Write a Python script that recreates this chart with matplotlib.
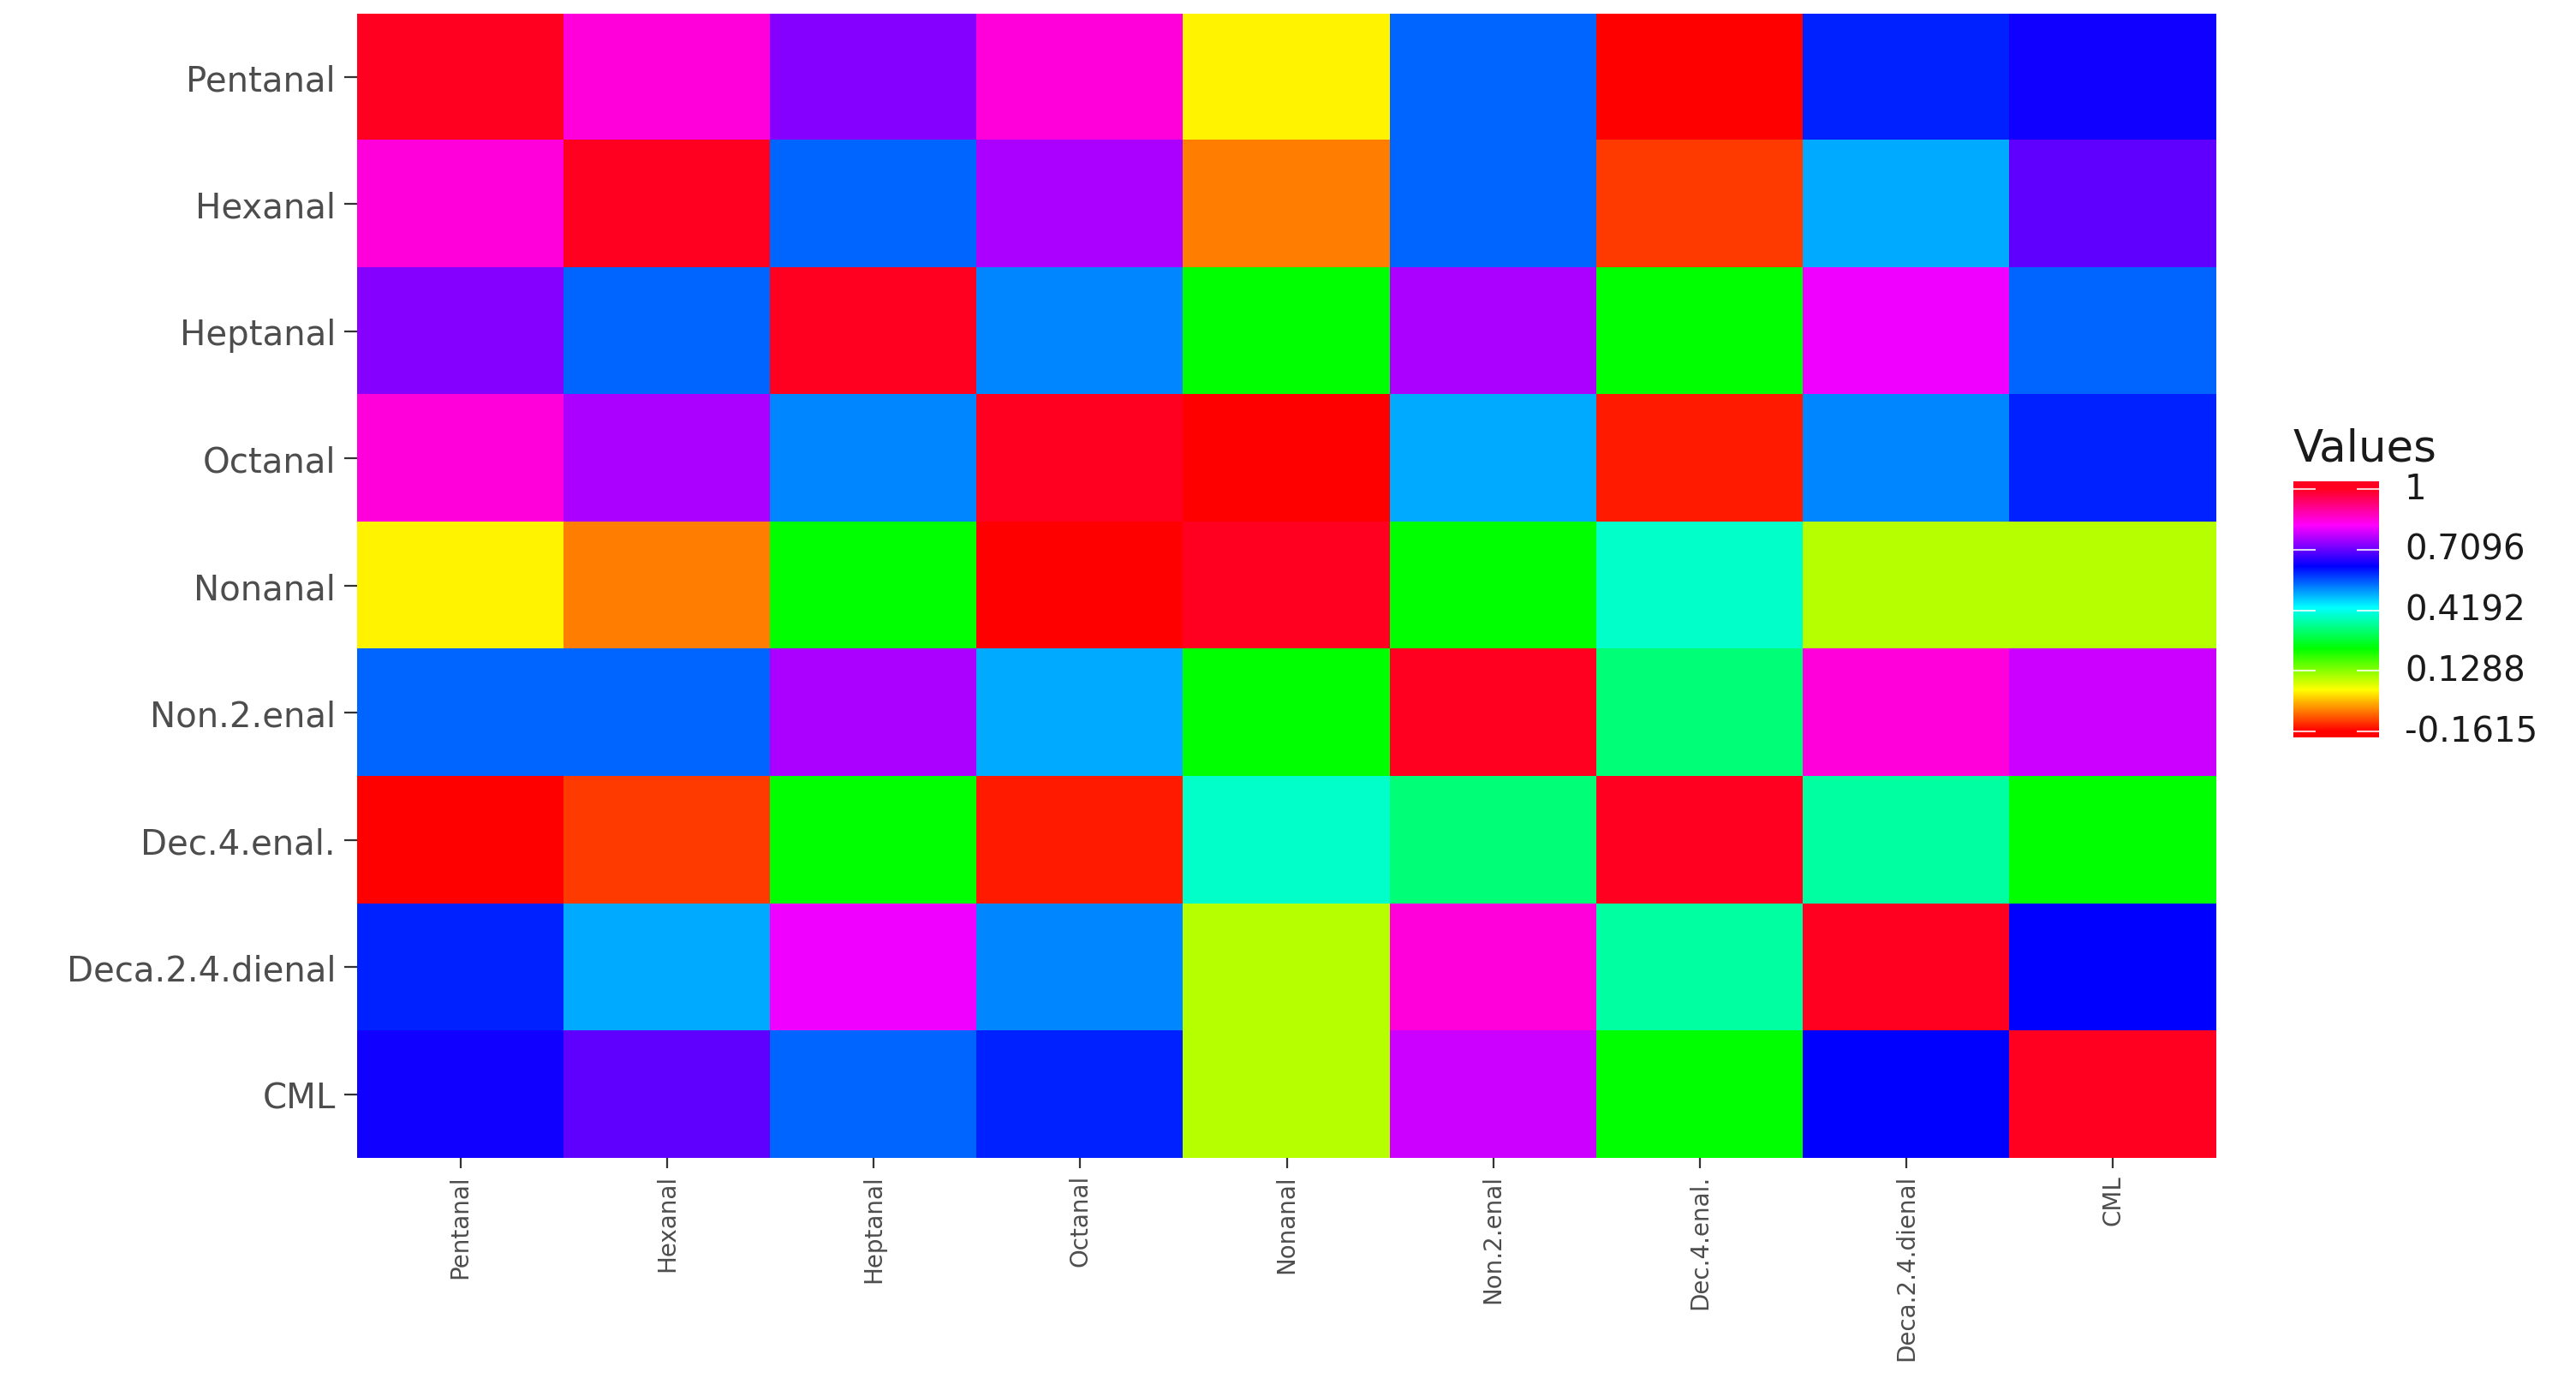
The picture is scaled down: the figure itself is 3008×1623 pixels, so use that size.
import numpy as np
import matplotlib
matplotlib.use("Agg")
import matplotlib.pyplot as plt
from matplotlib.colors import ListedColormap, Normalize, hsv_to_rgb

labels = ["Pentanal", "Hexanal", "Heptanal", "Octanal", "Nonanal",
          "Non.2.enal", "Dec.4.enal.", "Deca.2.4.dienal", "CML"]

row_pentanal = [1.000, 0.855, 0.733, 0.855, 0.029, 0.551, -0.1615, 0.604, 0.643]
row_hexanal = [0.855, 1.000, 0.551, 0.762, -0.063, 0.551, -0.114, 0.498, 0.703]
row_heptanal = [0.733, 0.551, 1.000, 0.525, 0.234, 0.762, 0.234, 0.815, 0.551]
row_octanal = [0.855, 0.762, 0.525, 1.000, -0.1615, 0.498, -0.141, 0.525, 0.604]
row_nonanal = [0.029, -0.063, 0.234, -0.1615, 1.000, 0.234, 0.390, 0.094, 0.094]
row_non2enal = [0.551, 0.551, 0.762, 0.498, 0.234, 1.000, 0.327, 0.855, 0.789]
row_dec4enal = [-0.1615, -0.114, 0.234, -0.141, 0.390, 0.327, 1.000, 0.358, 0.234]
row_deca24dienal = [0.604, 0.498, 0.815, 0.525, 0.094, 0.855, 0.358, 1.000, 0.630]
row_cml = [0.643, 0.703, 0.551, 0.604, 0.094, 0.789, 0.234, 0.630, 1.000]

legend_breaks = [-0.1615, 0.1288, 0.4192, 0.7096, 1.0]
legend_labels = ["-0.1615", "0.1288", "0.4192", "0.7096", "1"]
legend_title = "Values"

values = np.array([row_pentanal, row_hexanal, row_heptanal, row_octanal,
                   row_nonanal, row_non2enal, row_dec4enal,
                   row_deca24dienal, row_cml])

vmin, vmax = -0.1615, 1.0
hues = np.linspace(0.0, 0.978, 512)
hsv = np.stack([hues, np.ones_like(hues), np.ones_like(hues)], axis=1)
cmap = ListedColormap(hsv_to_rgb(hsv))
norm = Normalize(vmin=vmin, vmax=vmax)

W, H = 3008, 1624
fig = plt.figure(figsize=(W / 100, H / 100), dpi=100)

def fx(px):
    return px / W

def fy(py):
    return 1 - py / H

ax = fig.add_axes([fx(417), fy(1353), fx(2588) - fx(417), fy(16.5) - fy(1353)])
ax.imshow(values, cmap=cmap, norm=norm, aspect="auto", interpolation="nearest")
for s in ax.spines.values():
    s.set_visible(False)
ax.set_xticks(range(len(labels)))
ax.set_yticks(range(len(labels)))
ax.set_xticklabels(labels, rotation=90, fontsize=20, color="#4D4D4D",
                   family="DejaVu Sans")
ax.set_yticklabels(labels, fontsize=29, color="#4D4D4D", family="DejaVu Sans")
ax.tick_params(axis="x", length=8.6, width=1.6, color="#333333", pad=5)
ax.tick_params(axis="y", length=10.8, width=1.6, color="#333333", pad=7.2)

# colour bar legend
lo, hi = -0.19, 1.037
cax = fig.add_axes([fx(2678), fy(862), fx(2778) - fx(2678), fy(563) - fy(862)])
grad = np.linspace(lo, hi, 400)[:, None]
cax.imshow(grad, cmap=cmap, norm=norm, aspect="auto", origin="lower",
           extent=[0, 1, lo, hi], interpolation="bilinear")
cax.set_xlim(0, 1)
cax.set_ylim(lo, hi)
cax.set_xticks([])
cax.set_yticks([])
for s in cax.spines.values():
    s.set_visible(False)
for b, lab in zip(legend_breaks, legend_labels):
    cax.plot([0, 0.25], [b, b], color="white", lw=1.5, alpha=0.8)
    cax.plot([0.75, 1], [b, b], color="white", lw=1.5, alpha=0.8)
    cax.text(1.3, b, lab, transform=cax.get_yaxis_transform(), ha="left",
             va="center", fontsize=29, color="#1A1A1A", family="DejaVu Sans")

fig.text(fx(2678), fy(539), legend_title, ha="left", va="baseline",
         fontsize=37, color="#1A1A1A", family="DejaVu Sans")

fig.savefig("out.png", dpi=100, facecolor="white")
